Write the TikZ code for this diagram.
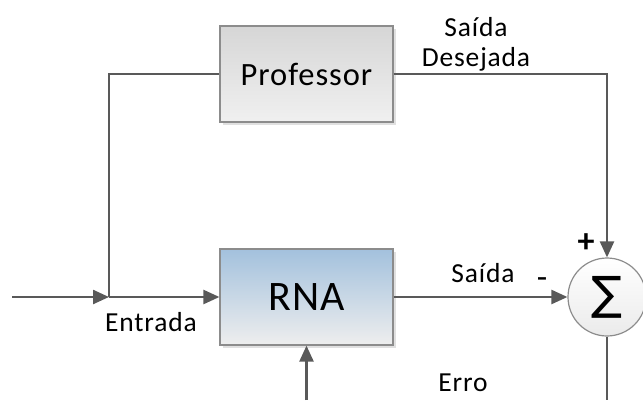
\documentclass[tikz,border=0pt]{standalone}
\usepackage{fontspec}
\setmainfont{Carlito}[LetterSpace=3]
\newfontfamily\symfont{DejaVu Sans}
\usetikzlibrary{arrows.meta,shadows}
\definecolor{linec}{HTML}{595959}
\definecolor{borderc}{HTML}{8C8C8C}
\definecolor{proftop}{HTML}{D6D6D6}
\definecolor{profbot}{HTML}{F0F0F0}
\definecolor{rnatop}{HTML}{A3C1DD}
\definecolor{rnabot}{HTML}{EEEEEE}
\tikzset{
  blockbox/.style={draw=borderc, line width=1.2pt, minimum width=173pt, minimum height=96pt,
    drop shadow={shadow xshift=3pt, shadow yshift=-3pt, fill=black, opacity=0.12}},
  conn/.style={draw=linec, line width=2.4pt},
  arr/.style={conn, -{Triangle[length=16pt,width=14pt]}},
  lbl/.style={font=\fontsize{27.5}{31}\selectfont, inner sep=0pt},
}
\begin{document}
\begin{tikzpicture}[x=1pt,y=-1pt]
\useasboundingbox (0,0) rectangle (643,400);
\clip (0,0) rectangle (643,400);
\node[blockbox, top color=proftop, bottom color=profbot, font=\fontsize{32.5}{37}\selectfont] (prof) at (306.5,74) {Professor};
\node[blockbox, top color=rnatop, bottom color=rnabot, font=\fontsize{42}{48}\selectfont] (rna) at (306.5,297) {RNA};
\node[circle, draw=borderc, line width=1.2pt, minimum size=78pt, inner sep=0pt, top color=white, bottom color=black!8] (sum) at (607,297) {\symfont\fontsize{46}{50}\selectfont ∑};
\coordinate (in) at (12,297);
\coordinate (junc) at (109,297);
\coordinate (jtop) at (109,74);
\coordinate (rtop) at (sum.north |- prof.east);
\coordinate (bot) at (rna.south |- 0,400);
\coordinate (sbot) at (sum.south |- 0,400);
\draw[conn] (prof.west) -- (jtop) -- (junc);
\draw[arr] (in) -- (junc);
\draw[arr] (junc) -- (rna.west);
\draw[arr] (prof.east) -- (rtop) -- (sum.north);
\draw[arr] (rna.east) -- (sum.west);
\draw[arr] (bot) -- (rna.south);
\draw[conn] (sum.south) -- (sbot);
\node[lbl] (ldes1) at (476,27) {Saída};
\node[lbl] (ldes2) at (476,59) {Desejada};
\node[lbl] (lsai) at (483,273) {Saída};
\node[lbl] (lent) at (151,322) {Entrada};
\node[lbl] (lerro) at (463,383) {Erro};
\node[font=\fontsize{34}{38}\selectfont\bfseries, inner sep=0pt] (lplus) at (586,243) {+};
\node[font=\fontsize{34}{38}\selectfont, inner sep=0pt] (lminus) at (542,283) {-};
\end{tikzpicture}
\end{document}
